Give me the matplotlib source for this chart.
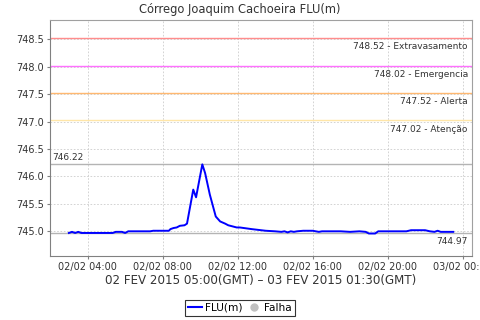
import matplotlib
matplotlib.use("Agg")
import matplotlib.pyplot as plt
import matplotlib.dates as mdates
from matplotlib.lines import Line2D
from datetime import datetime, timedelta

# ---- data ----
times = ["03:00", "03:10", "03:20", "03:30", "03:40", "04:00", "05:00", "05:20",
         "05:30", "05:50", "06:00", "06:10", "07:00", "07:20", "07:30", "08:00",
         "08:20", "08:25", "08:35", "08:45", "08:55", "09:10", "09:18", "09:38",
         "09:47", "10:07", "10:16", "10:31", "10:50", "11:04", "11:20", "11:30",
         "11:57", "12:07", "12:45", "13:30", "14:00", "14:20", "14:30", "14:40",
         "14:50", "15:00", "15:10", "15:30", "16:00", "16:20", "16:30", "17:00",
         "17:30", "18:00", "18:30", "18:50", "19:00", "19:20", "19:30", "21:00",
         "21:15", "22:00", "22:15", "22:30", "22:40", "22:50", "23:30"]
values = [744.97, 744.99, 744.97, 744.99, 744.97, 744.97, 744.97, 744.97,
          744.99, 744.99, 744.97, 745.00, 745.00, 745.00, 745.01, 745.01,
          745.01, 745.04, 745.06, 745.07, 745.10, 745.11, 745.14, 745.76,
          745.62, 746.22, 746.06, 745.67, 745.27, 745.18, 745.14, 745.11,
          745.07, 745.07, 745.04, 745.01, 745.00, 744.99, 745.00, 744.98,
          745.00, 744.99, 745.00, 745.01, 745.01, 744.99, 745.00, 745.00,
          745.00, 744.99, 745.00, 744.99, 744.96, 744.96, 745.00, 745.00,
          745.02, 745.02, 745.00, 744.99, 745.01, 744.99, 744.99]

thresholds = [748.52, 748.02, 747.52, 747.02]
threshold_names = ["Extravasamento", "Emergencia", "Alerta", "Atenção"]
threshold_colors = ["#FF8C8C", "#FF70FF", "#FFB870", "#FFE6A8"]
max_value = 746.22
min_value = 744.97

title = "Córrego Joaquim Cachoeira FLU(m)"
xlabel = "02 FEV 2015 05:00(GMT) – 03 FEV 2015 01:30(GMT)"
series_name = "FLU(m)"
fail_name = "Falha"
yticks = [745.0, 745.5, 746.0, 746.5, 747.0, 747.5, 748.0, 748.5]

base = datetime(2015, 2, 2)
def to_dt(s):
    h, m = map(int, s.split(":"))
    return base + timedelta(hours=h, minutes=m)

x = [to_dt(t) for t in times]

plt.rcParams['font.family'] = ['DejaVu Sans']
fig = plt.figure(figsize=(4.8, 3.2), dpi=100)
ax = fig.add_axes([49.5 / 480, 1 - 256 / 320, (472 - 49.5) / 480, (256 - 19.5) / 320])

ax.set_xlim(base + timedelta(hours=1, minutes=58), base + timedelta(hours=24, minutes=30))
ax.set_ylim(744.55, 748.86)

ax.grid(True, color="#CCCCCC", linestyle=(0, (2, 2)), linewidth=0.6)
ax.set_axisbelow(True)

for v, nm, c in zip(thresholds, threshold_names, threshold_colors):
    ax.axhline(v, color=c, linewidth=1.0, zorder=2)
    ax.annotate(f"{v:.2f} - {nm}", xy=(1, v), xycoords=("axes fraction", "data"),
                xytext=(-3, -3), textcoords="offset points", ha="right", va="top",
                fontsize=6.5, color="#333333")

ax.axhline(max_value, color="#B4B4B4", linewidth=1.0, zorder=2)
ax.annotate(f"{max_value:.2f}", xy=(0, max_value), xycoords=("axes fraction", "data"),
            xytext=(2, 2), textcoords="offset points", ha="left", va="bottom",
            fontsize=6.5, color="#333333")
ax.axhline(min_value, color="#B4B4B4", linewidth=1.0, zorder=2)
ax.annotate(f"{min_value:.2f}", xy=(1, min_value), xycoords=("axes fraction", "data"),
            xytext=(-3, -3), textcoords="offset points", ha="right", va="top",
            fontsize=6.5, color="#333333")

ax.plot(x, values, color="#0000FF", linewidth=1.4, zorder=3)

ax.set_yticks(yticks)
ax.yaxis.set_major_formatter(matplotlib.ticker.FormatStrFormatter("%.1f"))
ax.xaxis.set_major_locator(mdates.HourLocator(byhour=[0, 4, 8, 12, 16, 20]))
ax.xaxis.set_major_formatter(mdates.DateFormatter("%d/%m %H:%M"))
ax.tick_params(axis="both", direction="out", length=2, width=0.8, color="#808080",
               labelsize=7, labelcolor="#333333", pad=2)
for s in ax.spines.values():
    s.set_color("#A0A0A0")
    s.set_linewidth(0.8)
ax.spines["left"].set_color("#808080")
ax.spines["bottom"].set_color("#808080")

fig.text(0.5, 1 - 9 / 320, title, fontsize=8.3, color="#333333", ha="center", va="center")
ax.set_xlabel(xlabel, fontsize=8.6, color="#333333", labelpad=2)

handles = [Line2D([], [], color="#0000FF", linewidth=1.5),
           Line2D([], [], color="#C0C0C0", marker="o", linestyle="none", markersize=5)]
leg = fig.legend(handles, [series_name, fail_name], loc="center", bbox_to_anchor=(240 / 480, 1 - 308 / 320),
                 ncol=2, fontsize=7.6, frameon=True, fancybox=False, handlelength=1.3,
                 handletextpad=0.3, columnspacing=0.4, borderpad=0.3, borderaxespad=0)
leg.get_frame().set_edgecolor("black")
leg.get_frame().set_linewidth(0.8)

fig.savefig("out.png", dpi=100)
